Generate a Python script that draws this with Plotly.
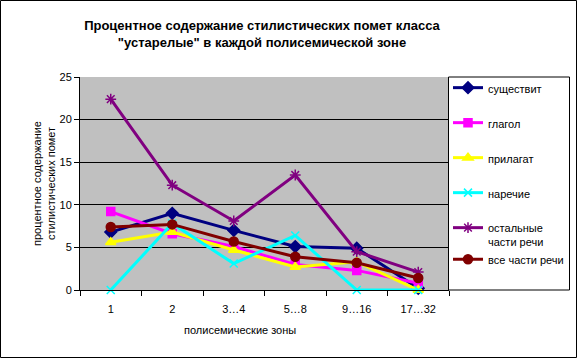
import plotly.graph_objects as go

categories = ["1", "2", "3…4", "5…8", "9…16", "17…32"]
noun = [6.8, 9.0, 7.0, 5.1, 4.9, 0.2]
verb = [9.2, 6.6, 5.1, 3.0, 2.3, 0.8]
adj = [5.6, 6.8, 4.7, 2.7, 3.3, 0.0]
adv = [0.0, 7.8, 3.1, 6.4, 0.0, 0.0]
other = [22.4, 12.3, 8.1, 13.5, 4.5, 2.1]
allpos = [7.4, 7.7, 5.7, 3.9, 3.2, 1.4]

series = [
    ("существит", noun, "#000080", "diamond", 9, "0"),
    ("глагол", verb, "#FF00FF", "square", 8, "1"),
    ("прилагат", adj, "#FFFF00", "triangle-up", 9, "2"),
    ("наречие", adv, "#00FFFF", "x-thin-open", 8, "3"),
    ("остальные<br>части речи", other, "#800080", "asterisk-open", 9, "4"),
    ("все части речи", allpos, "#800000", "circle", 9, "4"),
]

FONT = "Arial, Liberation Sans, sans-serif"
fig = go.Figure()
for name, vals, color, sym, size, grp in series:
    fig.add_trace(go.Scatter(
        x=categories, y=vals, name=name, mode="lines+markers",
        legendgroup=grp,
        line=dict(color=color, width=3),
        marker=dict(symbol=sym, size=size, color=color,
                    line=dict(color=color, width=1.5)),
        cliponaxis=False,
    ))

L, R, T, B = 80, 128, 77, 68
W, H = 577, 358
pw, ph = W - L - R, H - T - B

fig.update_layout(
    width=W, height=H,
    margin=dict(l=L, r=R, t=T, b=B, autoexpand=False),
    paper_bgcolor="white",
    plot_bgcolor="#C0C0C0",
    font=dict(family=FONT, size=11, color="black"),
    title=dict(
        text="<b>Процентное содержание стилистических помет класса<br>\"устарелые\" в каждой полисемической зоне</b>",
        x=262 / W, xanchor="center", xref="container",
        y=1 - 30 / H, yanchor="top", yref="container",
        font=dict(family=FONT, size=13, color="black"),
    ),
    xaxis=dict(
        type="category", tickson="boundaries", ticks="outside", ticklen=5,
        tickcolor="black", showline=True, linecolor="black", linewidth=1,
        showgrid=False, range=[-0.5, 5.5], ticklabelstandoff=9,
        tickfont=dict(family=FONT, size=11),
    ),
    yaxis=dict(
        range=[0, 25], dtick=5, ticks="outside", ticklen=5, tickcolor="black",
        showline=True, linecolor="black", linewidth=1,
        showgrid=True, gridcolor="black", gridwidth=1, zeroline=False,
        tickfont=dict(family=FONT, size=11),
        title=dict(text="процентное содержание<br>стилистических помет",
                   font=dict(family=FONT, size=11), standoff=1),
    ),
    legend=dict(
        xref="container", yref="container",
        x=448 / W, xanchor="left", y=1 - 74 / H, yanchor="top",
        borderwidth=0, bgcolor="rgba(0,0,0,0)",
        tracegroupgap=16, font=dict(family=FONT, size=11),
        itemwidth=30, valign="top", maxheight=400,
    ),
    showlegend=True,
)

fig.add_annotation(
    text="полисемические зоны", xref="paper", yref="paper",
    x=(240 - L) / pw, y=-(330 - (T + ph)) / ph, xanchor="center", yanchor="middle",
    showarrow=False, font=dict(family=FONT, size=11),
)

# outer frame
fig.add_shape(
    type="rect", xref="paper", yref="paper",
    x0=-(L - 0.5) / pw, x1=(W - 0.5 - L) / pw,
    y0=-(B - 0.5) / ph, y1=(T + ph - 0.5) / ph,
    line=dict(color="black", width=1),
)
# legend frame
fig.add_shape(
    type="rect", xref="paper", yref="paper", layer="below",
    x0=(448.5 - L) / pw, x1=(569.5 - L) / pw,
    y0=0, y1=1,
    line=dict(color="black", width=1), fillcolor="white",
)

fig.write_html("out.html", config={"displayModeBar": False},
               post_script="document.body.style.margin='0';")
